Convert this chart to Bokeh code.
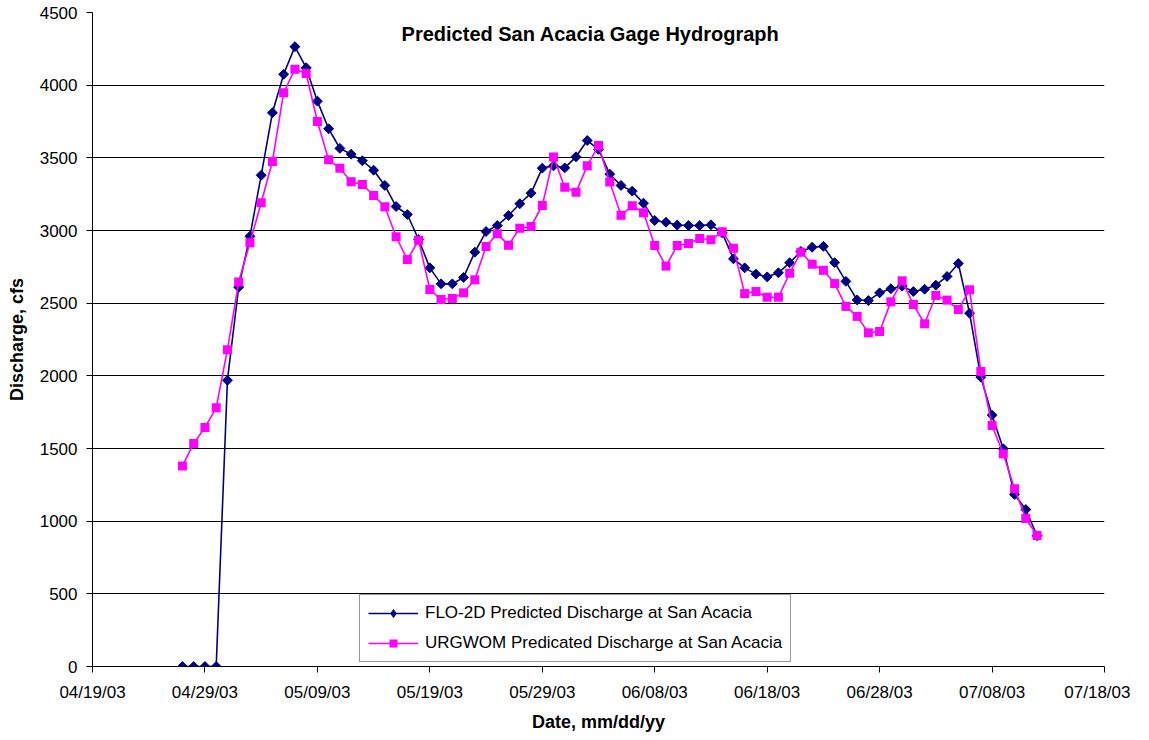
from datetime import datetime
import numpy as np
import pandas as pd
from bokeh.plotting import figure
from bokeh.models import (Range1d, FixedTicker, DatetimeTickFormatter, Legend,
                          LegendItem, Label, ColumnDataSource)
from bokeh.embed import file_html
from bokeh.resources import INLINE

# ---------------- data ----------------
first_day = "2003-04-27"

flo2d = [0, 0, 0, 0,
         1970, 2610, 2960, 3380, 3810, 4075, 4265, 4120, 3890, 3700,
         3565, 3525, 3480, 3415, 3310, 3165, 3110, 2938, 2743, 2633,
         2633, 2677, 2851, 2993, 3034, 3103, 3184, 3257, 3429, 3445, 3431,
         3507, 3619, 3558, 3388, 3310, 3271, 3188, 3069, 3057, 3037,
         3034, 3034, 3039, 2984, 2805, 2743, 2700, 2681, 2709, 2778,
         2856, 2885, 2891, 2779, 2650, 2522, 2518, 2571, 2599, 2617,
         2580, 2596, 2624, 2684, 2773, 2431, 1991, 1729, 1498, 1184, 1080, 900]

urgwom = [1380, 1535, 1645, 1780,
          2180, 2645, 2915, 3191, 3475, 3948, 4110, 4080, 3750, 3486,
          3429, 3335, 3317, 3241, 3164, 2957, 2800, 2933, 2594, 2525,
          2532, 2571, 2661, 2890, 2977, 2899, 3016, 3028, 3172, 3505, 3298,
          3264, 3445, 3585, 3334, 3105, 3170, 3122, 2897, 2755, 2897,
          2911, 2945, 2936, 2991, 2878, 2566, 2580, 2541, 2541, 2706,
          2851, 2768, 2726, 2635, 2478, 2409, 2296, 2305, 2509, 2654,
          2491, 2358, 2553, 2521, 2456, 2592, 2030, 1658, 1463, 1223, 1018, 901]

dates = pd.date_range(first_day, periods=len(flo2d), freq="D")

x_tick_labels = ["04/19/03", "04/29/03", "05/09/03", "05/19/03", "05/29/03",
                 "06/08/03", "06/18/03", "06/28/03", "07/08/03", "07/18/03"]
y_ticks = [0, 500, 1000, 1500, 2000, 2500, 3000, 3500, 4000, 4500]

title_text = "Predicted San Acacia Gage Hydrograph"
series_names = ["FLO-2D Predicted Discharge at San Acacia",
                "URGWOM Predicated Discharge at San Acacia"]

# ---------------- figure ----------------
FONT = "Liberation Sans"
tick_dates = [datetime.strptime(s, "%m/%d/%y") for s in x_tick_labels]
epoch = datetime(1970, 1, 1)
tick_ms = [(d - epoch).total_seconds() * 1000.0 for d in tick_dates]

p = figure(width=1130, height=737, x_axis_type="datetime",
           x_range=Range1d(tick_dates[0], tick_dates[-1]),
           y_range=Range1d(y_ticks[0], y_ticks[-1]),
           output_backend="svg", toolbar_location=None,
           min_border_left=92, min_border_right=26,
           min_border_top=12, min_border_bottom=71)

p.outline_line_color = None
p.background_fill_color = "white"
p.border_fill_color = "white"

src = ColumnDataSource(dict(date=dates, flo=flo2d, urg=urgwom))

l1 = p.line("date", "flo", source=src, line_color="#000080", line_width=1.6)
s1 = p.scatter("date", "flo", source=src, marker="square", angle=np.pi / 4,
               size=7, fill_color="#000080", line_color="#000080")
l2 = p.line("date", "urg", source=src, line_color="#FF00FF", line_width=1.6)
s2 = p.scatter("date", "urg", source=src, marker="square", size=9,
               fill_color="#FF00FF", line_color=None)

# legend-only diamond glyph (its single point has no value, so nothing is drawn)
leg_src = ColumnDataSource(dict(date=[dates[0]], flo=[np.nan]))
d1 = p.scatter("date", "flo", source=leg_src, marker="diamond", size=12,
               fill_color="#000080", line_color="#000080")

# axes
fmt = "%m/%d/%y"
p.xaxis.ticker = FixedTicker(ticks=tick_ms)
p.xaxis.formatter = DatetimeTickFormatter(
    microseconds=fmt, milliseconds=fmt, seconds=fmt, minsec=fmt, minutes=fmt,
    hourmin=fmt, hours=fmt, days=fmt, months=fmt, years=fmt)
p.yaxis.ticker = FixedTicker(ticks=y_ticks)

for ax in (p.xaxis, p.yaxis):
    ax.axis_line_color = "black"
    ax.axis_line_width = 1
    ax.major_tick_line_color = "black"
    ax.major_tick_out = 6
    ax.major_tick_in = 0
    ax.minor_tick_line_color = None
    ax.major_label_text_font = FONT
    ax.major_label_text_font_size = "17px"
    ax.major_label_text_color = "black"
    ax.axis_label_text_font = FONT
    ax.axis_label_text_font_style = "bold"
    ax.axis_label_text_color = "black"

p.xaxis.axis_label = "Date, mm/dd/yy"
p.xaxis.axis_label_text_font_size = "18px"
p.xaxis.major_label_standoff = 10
p.xaxis.axis_label_standoff = 7

p.yaxis.axis_label = "Discharge, cfs"
p.yaxis.axis_label_text_font_size = "18px"
p.yaxis.major_label_standoff = 9
p.yaxis.axis_label_standoff = 10

p.xgrid.grid_line_color = None
p.ygrid.ticker = FixedTicker(ticks=y_ticks)
p.ygrid.grid_line_color = "black"
p.ygrid.grid_line_width = 1

# title inside the plot area
p.add_layout(Label(x=datetime(2003, 6, 2, 7), y=4355, text=title_text,
                   text_align="center", text_baseline="middle",
                   text_font=FONT, text_font_style="bold",
                   text_font_size="20px", text_color="black"))

legend = Legend(items=[LegendItem(label=series_names[0], renderers=[l1, d1]),
                       LegendItem(label=series_names[1], renderers=[l2, s2])],
                location=(267, 4), orientation="vertical")
legend.label_text_font = FONT
legend.label_text_font_size = "17px"
legend.label_text_color = "black"
legend.border_line_color = "#333333"
legend.border_line_width = 1
legend.background_fill_color = "white"
legend.background_fill_alpha = 1
legend.padding = 8
legend.spacing = 10
legend.margin = 0
legend.glyph_width = 50
legend.glyph_height = 20
legend.label_height = 20
legend.label_standoff = 7
p.add_layout(legend)

open("out.html", "w").write(file_html(p, INLINE))
